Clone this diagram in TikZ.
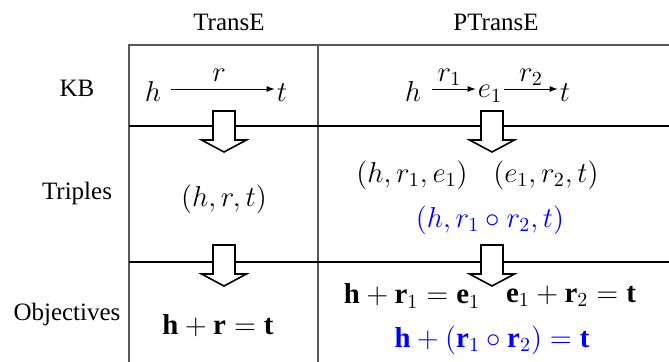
\documentclass[tikz,border=0pt]{standalone}
\usepackage{fontspec}
\setmainfont{Liberation Serif}
\usepackage{amsmath}
\tikzset{
  label text/.style={font=\fontsize{12.5}{15}\selectfont},
  math text/.style={font=\fontsize{14.4}{17}\selectfont, inner sep=1pt},
  rule/.style={line width=0.7pt},
  blockarrow/.pic={
    \draw[fill=white, line width=0.8pt, line join=miter]
      (-11,0) -- (11,0) -- (11,29) -- (22.5,29) -- (0,41)
      -- (-22.5,29) -- (-11,29) -- cycle;
  }
}
\begin{document}
\begin{tikzpicture}[x=0.5pt,y=-0.5pt]
  \useasboundingbox (0,0) rectangle (669,362);
  % Table lines
  \draw[rule, black!65] (129,362) -- (129,45) -- (669,45);
  \draw[rule, black!65] (318,45) -- (318,362);
  \draw[rule] (129,126) -- (669,126);
  \draw[rule] (129,262) -- (669,262);
  % Column heads
  \node[label text] (transe) at (229,22) {TransE};
  \node[label text] (ptranse) at (496,22) {PTransE};
  % Row heads
  \node[label text] (kb) at (77,88) {KB};
  \node[label text] (triples) at (77,193) {Triples};
  \node[label text] (objectives) at (67,314) {Objectives};
  % KB row
  \node[math text, anchor=base] (h1) at (153,102) {$h$};
  \node[math text, anchor=base] (t1) at (282,102) {$t$};
  \draw[-latex, shorten <=3.5pt] (h1.east |- 0,89) -- (t1.west |- 0,89)
    node[midway, above=2.5pt, math text] {$r$};
  \node[math text, anchor=base] (h2) at (413,102) {$h$};
  \node[math text, anchor=base] (e1) at (490,98) {$e_1$};
  \node[math text, anchor=base] (t2) at (565,102) {$t$};
  \draw[-latex, shorten <=4pt] (h2.east |- 0,89) -- (e1.west |- 0,89)
    node[midway, above=0.5pt, math text] {$r_1$};
  \draw[-latex] (e1.east |- 0,89) -- (t2.west |- 0,89)
    node[midway, above=0.5pt, math text] {$r_2$};
  % Triples row
  \node[math text] (trip1) at (224,199) {$(h,r,t)$};
  \node[math text] (trip2) at (412,175) {$(h,r_1,e_1)$};
  \node[math text] (trip3) at (546,175) {$(e_1,r_2,t)$};
  \node[math text, text=blue] (trip4) at (490,220) {$(h,r_1\circ r_2,t)$};
  % Objectives row
  \node[math text] (obj1) at (218,326) {$\mathbf{h}+\mathbf{r}=\mathbf{t}$};
  \node[math text] (obj2) at (412,296) {$\mathbf{h}+\mathbf{r}_1=\mathbf{e}_1$};
  \node[math text] (obj3) at (571,296) {$\mathbf{e}_1+\mathbf{r}_2=\mathbf{t}$};
  \node[math text, text=blue] (obj4) at (492,340)
    {$\mathbf{h}+(\mathbf{r}_1\circ\mathbf{r}_2)=\mathbf{t}$};
  % Block arrows between rows
  \foreach \cx in {224,492}
    \foreach \cy in {111,245}
      \pic at (\cx,\cy) {blockarrow};
\end{tikzpicture}
\end{document}
